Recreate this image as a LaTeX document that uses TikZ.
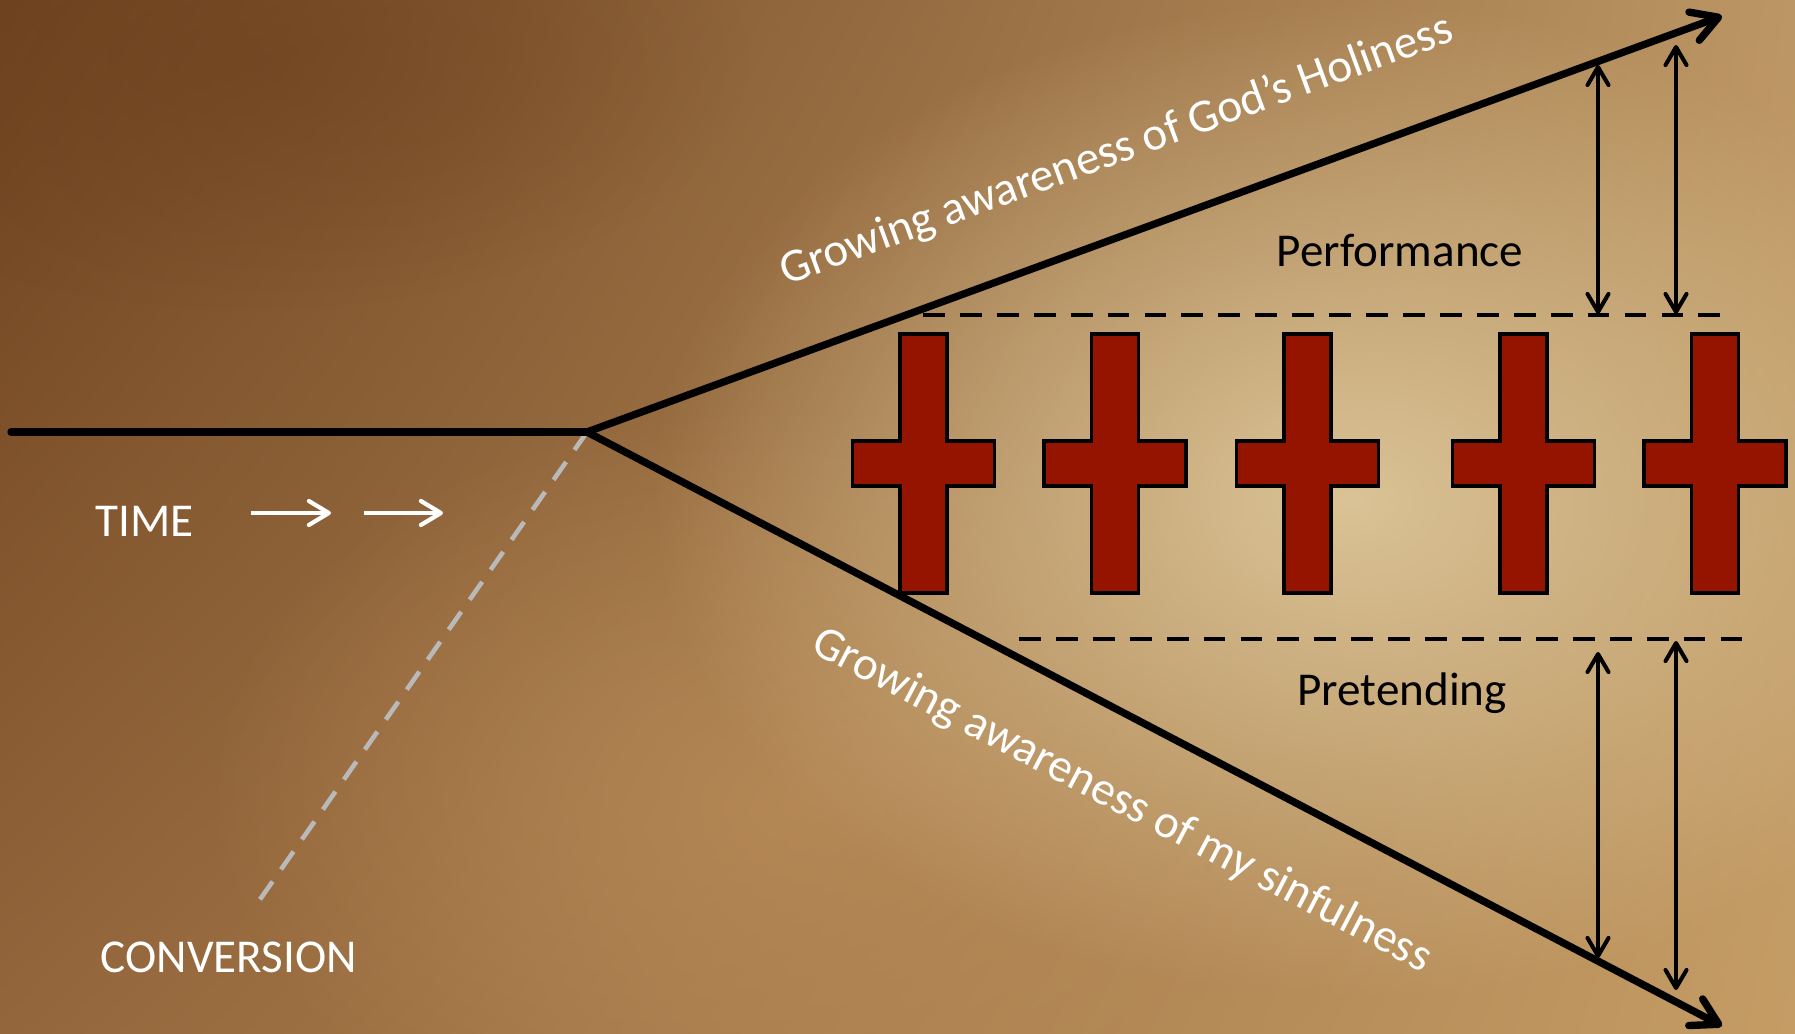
\documentclass[tikz,border=0pt]{standalone}
\usepackage{fontspec}
\setmainfont{Carlito}
\usetikzlibrary{arrows.meta, calc, fadings, shadings}
\definecolor{ParchDarkTL}{RGB}{110,66,30}
\definecolor{ParchTR}{RGB}{188,150,100}
\definecolor{ParchBL}{RGB}{148,102,60}
\definecolor{ParchBR}{RGB}{196,156,100}
\definecolor{ParchLight}{RGB}{218,195,150}
\definecolor{ParchWarm}{RGB}{185,140,88}
\definecolor{CrossRed}{RGB}{148,20,0}
\definecolor{ConvGray}{RGB}{185,185,185}
\tikzfading[name=softglow, inner color=transparent!0, outer color=transparent!100]

\begin{document}
\begin{tikzpicture}[x=0.01cm, y=-0.01cm,
    every node/.style={font=\fontsize{13.4}{16}\selectfont, inner sep=0pt},
    mainline/.style={line width=2.1pt, line cap=round},
    growarrow/.style={mainline, -{Straight Barb[round, length=2.6mm, width=3mm]}},
    gaparrow/.style={line width=1.15pt, {Straight Barb[round, length=1.8mm, width=2.1mm]}-{Straight Barb[round, length=1.8mm, width=2.1mm]}},
    timearrow/.style={white, line width=1.2pt, -{Straight Barb[round, length=2mm, width=2.4mm]}},
    limitline/.style={line width=1.4pt, dash pattern=on 6.2pt off 4.3pt},
    crossshape/.style={fill=CrossRed, draw=black, line width=1pt}]
    % Background
    \useasboundingbox (0,0) rectangle (1795,1034);
    \shade[upper left=ParchDarkTL, upper right=ParchTR, lower left=ParchBL, lower right=ParchBR] (0,0) rectangle (1795,1034);
    \fill[ParchWarm, path fading=softglow, opacity=0.8] (800,800) ellipse (6cm and 4cm);
    \fill[ParchLight, path fading=softglow] (1350,500) ellipse (7cm and 5cm);
    \fill[ParchDarkTL, path fading=softglow, opacity=0.6] (250,60) ellipse (5cm and 2.5cm);

    % Points
    \coordinate (timestart) at (11,432);
    \coordinate (fork) at (587,432);
    \coordinate (holytip) at (1722,16);
    \coordinate (sintip) at (1722,1026);
    \coordinate (convend) at (254,908);

    % Conversion
    \draw[ConvGray, line width=1.3pt, dash pattern=on 6.2pt off 4.2pt] (fork) -- (convend);

    % Main lines
    \draw[mainline] (timestart) -- (fork);
    \draw[growarrow] (fork) -- (holytip);
    \draw[growarrow] (fork) -- (sintip);

    % Limits
    \coordinate (perfleft) at (923,315);
    \coordinate (perfright) at (1724,315);
    \coordinate (pretleft) at (1019,639);
    \coordinate (pretright) at (1752,639);
    \draw[limitline] (perfleft) -- (perfright);
    \draw[limitline] (pretleft) -- (pretright);

    % Gaps
    \coordinate (perfAtop) at (1598,65);
    \coordinate (perfAbot) at (1598,314);
    \coordinate (perfBtop) at (1676,45);
    \coordinate (perfBbot) at (1676,314);
    \coordinate (pretAtop) at (1598,652);
    \coordinate (pretAbot) at (1598,958);
    \coordinate (pretBtop) at (1676,641);
    \coordinate (pretBbot) at (1676,990);
    \draw[gaparrow] (perfAtop) -- (perfAbot);
    \draw[gaparrow] (perfBtop) -- (perfBbot);
    \draw[gaparrow] (pretAtop) -- (pretAbot);
    \draw[gaparrow] (pretBtop) -- (pretBbot);

    % Crosses
    \foreach \cx in {923.5,1115,1307.5,1523.5,1715}
        \draw[crossshape] (\cx-23.5,334) -- (\cx+23.5,334) -- (\cx+23.5,441) -- (\cx+71,441)
            -- (\cx+71,486) -- (\cx+23.5,486) -- (\cx+23.5,593) -- (\cx-23.5,593)
            -- (\cx-23.5,486) -- (\cx-71,486) -- (\cx-71,441) -- (\cx-23.5,441) -- cycle;

    % Labels
    \node[anchor=base west, white] (time) at (95,537) {TIME};
    \node[anchor=base west, white] (conversion) at (100,972) {CONVERSION};
    \node[anchor=base] (performance) at (1400,267) {Performance};
    \node[anchor=base] (pretending) at (1402,705) {Pretending};
    \node[anchor=base, white, rotate=20.1] (holiness) at (1121,163) {Growing awareness of God’s Holiness};
    \node[anchor=base, white, rotate=-27.7] (sinfulness) at (1116,812) {Growing awareness of my sinfulness};

    % Time arrows
    \coordinate (tarrowAs) at (251,513);
    \coordinate (tarrowAe) at (331,513);
    \coordinate (tarrowBs) at (364,513);
    \coordinate (tarrowBe) at (443,513);
    \draw[timearrow] (tarrowAs) -- (tarrowAe);
    \draw[timearrow] (tarrowBs) -- (tarrowBe);
\end{tikzpicture}
\end{document}
